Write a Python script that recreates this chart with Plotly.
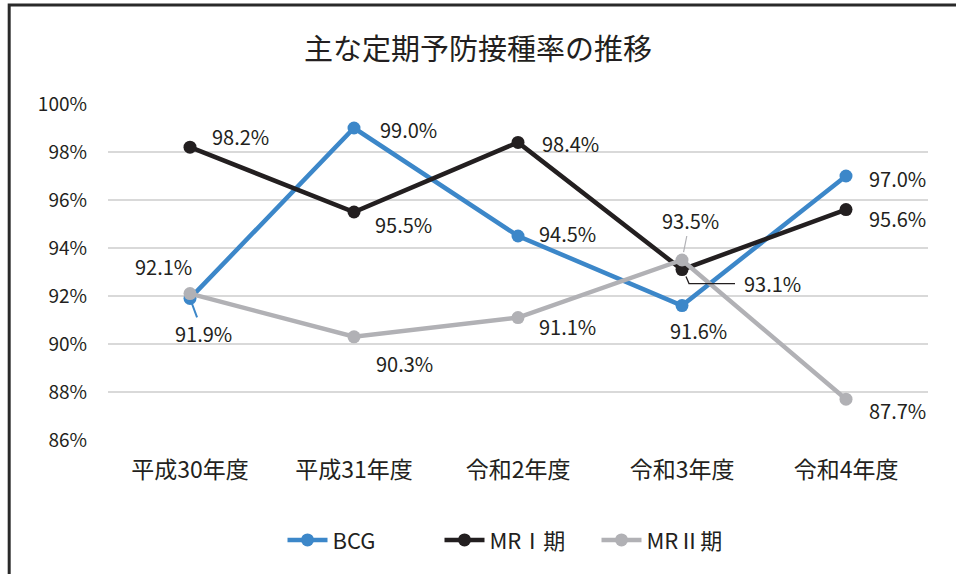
import plotly.graph_objects as go

categories = ["平成30年度", "平成31年度", "令和2年度", "令和3年度", "令和4年度"]
bcg = [91.9, 99.0, 94.5, 91.6, 97.0]
mr1 = [98.2, 95.5, 98.4, 93.1, 95.6]
mr2 = [92.1, 90.3, 91.1, 93.5, 87.7]
series_names = ["BCG", "MRⅠ期", "MRⅡ期"]
y_ticks = [86, 88, 90, 92, 94, 96, 98, 100]
y_tick_labels = [f"{v}%" for v in y_ticks]

colors = ["#3c87c9", "#231f20", "#b1b1b5"]
FONT = "Noto Sans CJK JP"
LBL = 20

fig = go.Figure()
for name, vals, col in zip(series_names, [bcg, mr1, mr2], colors):
    fig.add_trace(go.Scatter(
        x=categories, y=vals, name=name, mode="lines+markers",
        line=dict(color=col, width=4.5),
        marker=dict(color=col, size=13),
        hoverinfo="skip",
    ))

# label placements: (series index, point index, xshift, yshift)
placements = [
    (1, 0, 50, 11), (0, 1, 54, -1), (1, 1, 49, -12), (1, 2, 52, -1),
    (0, 2, 49, 3), (2, 2, 49, -9), (2, 1, 50, -27), (2, 0, -27, 27),
    (0, 4, 51, -2), (1, 4, 51, -9), (2, 4, 51, -11),
    (0, 3, 16, -25),
]
data = [bcg, mr1, mr2]
for si, pi, xs, ys in placements:
    v = data[si][pi]
    fig.add_annotation(x=categories[pi], y=v, text=f"{v:.1f}%", showarrow=False,
                       xshift=xs, yshift=ys,
                       font=dict(family=FONT, size=LBL, color="#231f20"))

# BCG H30 label with leader line
fig.add_annotation(x=categories[0], y=bcg[0], text=f"{bcg[0]:.1f}%", showarrow=True,
                   arrowhead=0, arrowwidth=2, arrowcolor=colors[0], ax=13, ay=35,
                   standoff=2, font=dict(family=FONT, size=LBL, color="#231f20"))
# MRII R3 label with leader line
fig.add_annotation(x=categories[3], y=mr2[3], text=f"{mr2[3]:.1f}%", showarrow=True,
                   arrowhead=0, arrowwidth=1.2, arrowcolor=colors[2], ax=8, ay=-40,
                   standoff=8, font=dict(family=FONT, size=LBL, color="#231f20"))
# MRI R3 label with elbow leader
fig.add_annotation(x=categories[3], y=mr1[3], text=f"{mr1[3]:.1f}%", showarrow=False,
                   xshift=90, yshift=-14, font=dict(family=FONT, size=LBL, color="#231f20"))
fig.add_shape(type="path", xref="x", yref="y", xsizemode="pixel", ysizemode="pixel",
              xanchor=3, yanchor=mr1[3],
              path="M 4 -7 L 7 -14 L 53 -14",
              line=dict(color="#231f20", width=1.3), layer="above")

# outer frame (left and top edges visible; right/bottom run off the picture)
fig.add_shape(type="rect", xref="paper", yref="paper",
              x0=-0.1205, x1=1.06, y0=-0.5, y1=1.2946,
              line=dict(color="#2a2a2a", width=3), layer="below")

fig.update_layout(
    width=956, height=574,
    margin=dict(l=108, r=28, t=104, b=134),
    paper_bgcolor="white", plot_bgcolor="white",
    title=dict(text="主な定期予防接種率の推移", x=0.5, xanchor="center",
               y=0.913, yanchor="middle",
               font=dict(family=FONT, size=29, color="#231f20")),
    font=dict(family=FONT, color="#231f20"),
    showlegend=True,
    legend=dict(orientation="h", x=0.5, xanchor="center", y=-0.298, yanchor="middle",
                font=dict(family=FONT, size=22, color="#231f20"),
                itemwidth=40, tracegroupgap=0, entrywidth=102, entrywidthmode="pixels"),
    hovermode=False,
)
fig.update_xaxes(type="category", range=[-0.5, 4.5], showgrid=False, showline=False, ticks="",
                 tickfont=dict(family=FONT, size=23, color="#231f20"), ticklabelstandoff=14)
fig.update_yaxes(range=[86, 100], tickvals=y_ticks, ticktext=y_tick_labels,
                 showgrid=True, gridcolor="#d9d9d9", gridwidth=1.5, zeroline=False,
                 showline=False, ticks="", ticklabelstandoff=20,
                 tickfont=dict(family=FONT, size=19, color="#231f20"))

fig.write_html("out.html", config={"displayModeBar": False},
               post_script="document.body.style.margin='0px';")
